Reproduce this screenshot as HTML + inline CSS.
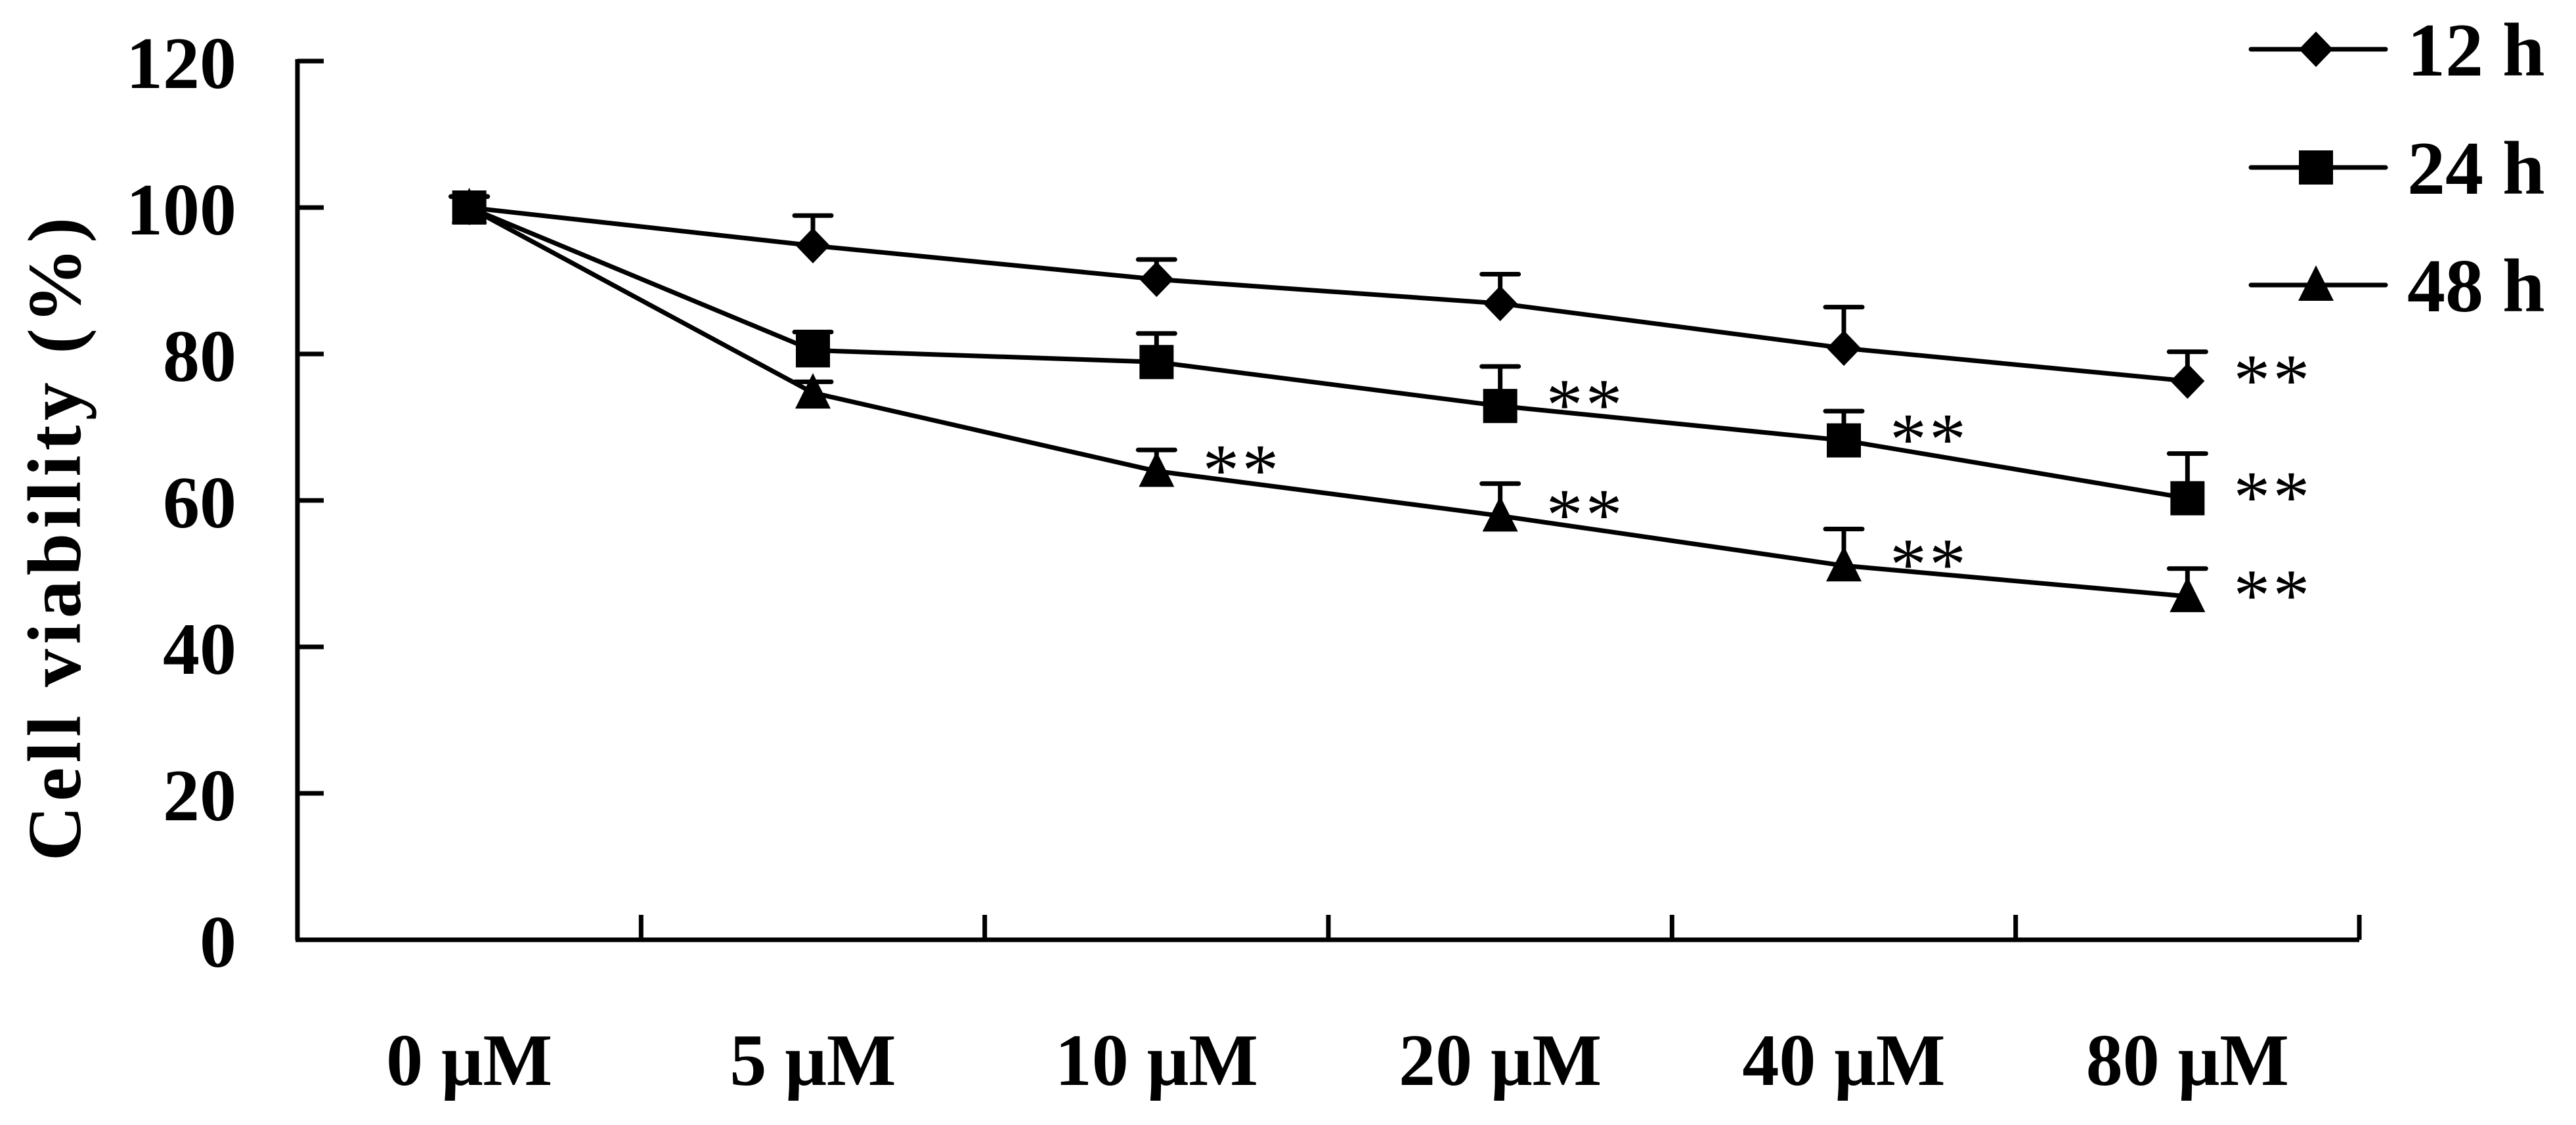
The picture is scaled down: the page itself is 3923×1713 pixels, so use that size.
<!DOCTYPE html>
<html><head><meta charset="utf-8"><style>
html,body{margin:0;padding:0;background:#fff}
svg{display:block}
text{font-family:"Liberation Serif",serif;fill:#000}
</style></head><body>
<svg id="chart" width="3923" height="1713" viewBox="0 0 3923 1713" xmlns="http://www.w3.org/2000/svg">
<g id="axes"></g>
<g id="series"></g>
<g id="legend"></g>
<text x="0" y="0" transform="translate(122,821) rotate(-90)" text-anchor="middle" font-size="116" font-weight="bold" textLength="980" lengthAdjust="spacing">Cell viability (%)</text>
</svg>
<script>
const categories = ["0 μM","5 μM","10 μM","20 μM","40 μM","80 μM"];
const yTicks = [0,20,40,60,80,100,120];
const seriesNames = ["12 h","24 h","48 h"];
const v12 = [100,94.8,90.2,86.9,80.8,76.3];
const e12 = [1.5,4.1,2.7,4.0,5.6,4.0];
const v24 = [100,80.5,78.9,72.9,68.2,60.3];
const e24 = [1.5,2.5,3.9,5.4,4.0,6.1];
const v48 = [100,74.7,64.0,57.9,51.1,46.9];
const e48 = [1.5,1.5,2.9,4.4,5.0,3.8];
const sig12 = [false,false,false,false,false,true];
const sig24 = [false,false,false,true,true,true];
const sig48 = [false,false,true,true,true,true];

const NS="http://www.w3.org/2000/svg";
const X0=453, X1=3593, Y0=1431, Y1=93;
const step=(X1-X0)/categories.length;
const xPos=i=>X0+step*(i+0.5);
const yPos=v=>Y0-(v/120)*(Y0-Y1);
function mk(tag,attrs,parent){const e=document.createElementNS(NS,tag);for(const k in attrs)e.setAttribute(k,attrs[k]);parent.appendChild(e);return e;}
const axes=document.getElementById('axes'), ser=document.getElementById('series'), leg=document.getElementById('legend');

let el=mk('line',{x1:X0,y1:Y1-3,x2:X0,y2:Y0,stroke:'#000','stroke-width':7},axes);


el=mk('line',{x1:X0-3,y1:Y0,x2:X1,y2:Y0,stroke:'#000','stroke-width':7},axes);


yTicks.forEach(t=>{
  const y=yPos(t);
  let l=mk('line',{x1:X0,y1:y,x2:X0+40,y2:y,stroke:'#000','stroke-width':7},axes);
  
  
  let tx=mk('text',{x:360,y:y+41,'text-anchor':'end','font-size':112,'font-weight':'bold'},axes);
  tx.textContent=t;
  
  
});
categories.forEach((c,i)=>{
  const xt=X0+step*(i+1);
  let l=mk('line',{x1:xt,y1:Y0,x2:xt,y2:Y0-38,stroke:'#000','stroke-width':7},axes);
  
  
  let tx=mk('text',{x:xPos(i),y:1652,'text-anchor':'middle','font-size':112,'font-weight':'bold'},axes);
  tx.textContent=c;
  
  
});

function marker(type,x,y,parent){
  let m;
  if(type==='diamond') m=mk('polygon',{points:`${x},${y-27} ${x+26},${y} ${x},${y+27} ${x-26},${y}`,fill:'#000'},parent);
  else if(type==='square') m=mk('rect',{x:x-26,y:y-26,width:52,height:52,fill:'#000'},parent);
  else m=mk('polygon',{points:`${x},${y-30} ${x+27},${y+24} ${x-27},${y+24}`,fill:'#000'},parent);
  return m;
}
const all=[[v12,e12,sig12,'diamond'],[v24,e24,sig24,'square'],[v48,e48,sig48,'triangle']];
all.forEach(([vals,errs,sig,type],si)=>{
  const g=mk('g',{},ser);
  
  
  const pts=vals.map((v,i)=>xPos(i)+','+yPos(v)).join(' ');
  let pl=mk('polyline',{points:pts,fill:'none',stroke:'#000','stroke-width':7,'stroke-linejoin':'round'},g);
  
  
  vals.forEach((v,i)=>{
    const x=xPos(i), y=yPos(v), yt=yPos(v+errs[i]);
    let eb=mk('path',{d:`M${x},${y} V${yt} M${x-28},${yt} H${x+28}`,stroke:'#000','stroke-width':7,fill:'none','stroke-linecap':'round'},g);
    
    
    let m=marker(type,x,y,g);
    
    
    if(sig[i]){
      let s=mk('text',{x:x+70,y:y+36,'font-size':112,'letter-spacing':4},g);
      s.textContent='**';
      
      
    }
  });
});
const legY=[75,255,434], legTypes=['diamond','square','triangle'];
seriesNames.forEach((n,i)=>{
  const g=mk('g',{},leg);
  
  
  mk('line',{x1:3428,y1:legY[i],x2:3633,y2:legY[i],stroke:'#000','stroke-width':7,'stroke-linecap':'round'},g);
  marker(legTypes[i],3527,legY[i],g);
  let t=mk('text',{x:3666,y:legY[i]+40,'font-size':116,'font-weight':'bold'},g);
  t.textContent=n;
  
  
});
</script>
</body></html>
